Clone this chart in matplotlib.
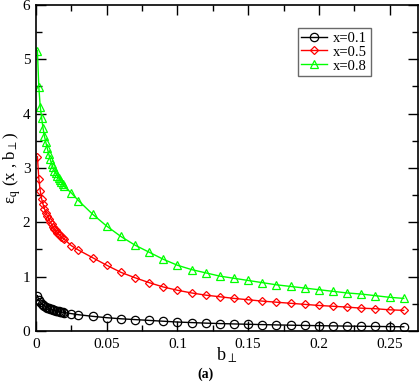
import matplotlib
matplotlib.use('Agg')
import matplotlib.pyplot as plt
from matplotlib.ticker import MultipleLocator

plt.rcParams['font.family'] = ['Liberation Serif', 'DejaVu Serif']
plt.rcParams['mathtext.fontset'] = 'stix'

b = [0.001, 0.002, 0.003, 0.004, 0.005, 0.006, 0.007, 0.008, 0.009, 0.010,
     0.011, 0.012, 0.013, 0.014, 0.015, 0.016, 0.017, 0.018, 0.019, 0.020,
     0.025, 0.03, 0.04, 0.05, 0.06, 0.07, 0.08, 0.09, 0.10, 0.11, 0.12,
     0.13, 0.14, 0.15, 0.16, 0.17, 0.18, 0.19, 0.20, 0.21, 0.22, 0.23,
     0.24, 0.25, 0.26]

eps_01 = [0.65, 0.57, 0.53, 0.50, 0.475, 0.46, 0.445, 0.43, 0.42, 0.41,
          0.40, 0.39, 0.38, 0.375, 0.37, 0.36, 0.355, 0.35, 0.345, 0.34,
          0.32, 0.30, 0.27, 0.245, 0.225, 0.21, 0.195, 0.18, 0.165, 0.155, 0.145,
          0.137, 0.13, 0.124, 0.118, 0.112, 0.107, 0.102, 0.098, 0.094, 0.09, 0.087,
          0.084, 0.081, 0.078]

eps_05 = [3.21, 2.80, 2.58, 2.43, 2.33, 2.25, 2.18, 2.12, 2.06, 2.01,
          1.96, 1.92, 1.88, 1.85, 1.81, 1.78, 1.76, 1.73, 1.71, 1.69,
          1.57, 1.49, 1.35, 1.21, 1.08, 0.98, 0.89, 0.81, 0.75, 0.70, 0.66,
          0.63, 0.60, 0.575, 0.55, 0.53, 0.51, 0.49, 0.47, 0.455, 0.44, 0.42,
          0.41, 0.39, 0.38]

eps_08 = [5.16, 4.49, 4.13, 3.92, 3.73, 3.58, 3.47, 3.36, 3.26, 3.16,
          3.08, 3.01, 2.95, 2.90, 2.86, 2.82, 2.78, 2.74, 2.70, 2.66,
          2.54, 2.40, 2.15, 1.93, 1.74, 1.58, 1.45, 1.32, 1.21, 1.13, 1.07,
          1.01, 0.97, 0.93, 0.89, 0.85, 0.82, 0.79, 0.76, 0.73, 0.70, 0.68,
          0.65, 0.62, 0.60]

xticks = [0, 0.05, 0.1, 0.15, 0.2, 0.25]
xticklabels = ['0', '0.05', '0.1', '0.15', '0.2', '0.25']

fig = plt.figure(figsize=(4.2, 3.82), dpi=100)
ax = fig.add_axes([0.0857, 0.1335, 0.9093, 0.8535])

ax.plot(b, eps_01, color='black', lw=1, marker='o', ms=6, mfc='none', mew=0.9, label='x=0.1')
ax.plot(b, eps_05, color='red', lw=1, marker='D', ms=4, mfc='none', mew=0.9, label='x=0.5')
ax.plot(b, eps_08, color='#00ff00', lw=1, marker='^', ms=6, mfc='none', mew=0.9, label='x=0.8')

ax.set_xlim(0, 0.27)
ax.set_ylim(0, 6)
ax.set_xticks(xticks)
ax.set_xticklabels(xticklabels)
ax.xaxis.set_minor_locator(MultipleLocator(0.025))
ax.yaxis.set_major_locator(MultipleLocator(1))
ax.yaxis.set_minor_locator(MultipleLocator(0.5))
ax.tick_params(which='both', direction='in', top=True, right=True, labelsize=11)
ax.tick_params(axis='y', pad=4)
ax.tick_params(axis='x', pad=5)
ax.tick_params(which='major', length=7, width=1)
ax.tick_params(which='minor', length=4, width=1)
for s in ax.spines.values():
    s.set_linewidth(1.2)

ax.set_ylabel('ε$_{\\mathrm{q}}$ (x , b$_{\\perp}$)', fontsize=12)
ax.yaxis.set_label_coords(-0.033, 0.5)
ax.set_xlabel('b$_{\\perp}$', fontsize=13)
ax.xaxis.set_label_coords(0.5, -0.045)
fig.text(0.49, 0.01, '(a)', fontsize=10, fontweight='bold', ha='center')

leg = ax.legend(loc='upper left', bbox_to_anchor=(0.685, 0.93), fontsize=10.5,
                frameon=True, fancybox=False, handlelength=1.8,
                borderpad=0.25, labelspacing=0.05, handletextpad=0.4,
                borderaxespad=0)
leg.get_frame().set_edgecolor('#444444')
leg.get_frame().set_linewidth(1)

fig.savefig('out.png', dpi=100)
